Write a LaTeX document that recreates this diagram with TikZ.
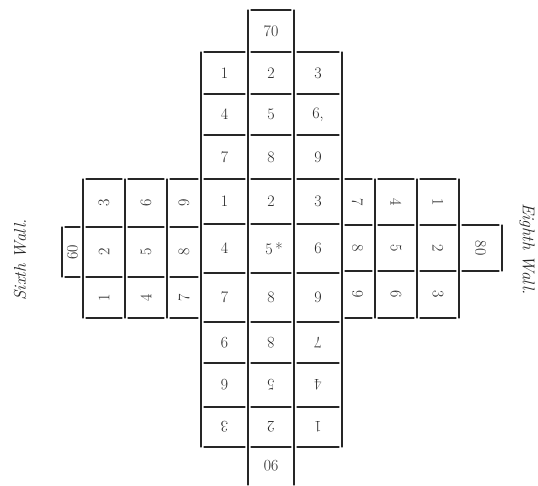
\documentclass[tikz,border=0pt]{standalone}
\begin{document}
\begin{tikzpicture}[x=1pt,y=-1pt,
  gridline/.style={line width=1.1pt, black!85, line cap=round},
  num/.style={font=\fontsize{16}{18}\selectfont, inner sep=0pt, text=black!85},
  wall/.style={font=\fontsize{17}{20}\selectfont\itshape, inner sep=0pt, text=black!85}]
\useasboundingbox[fill=white] (0,0) rectangle (538,485);

% ---------- centre verticals ----------
\draw[gridline] (201,52) -- (201,447);
\draw[gridline] (248,10) -- (248,485);
\draw[gridline] (294,10) -- (294,485);
\draw[gridline] (342,52) -- (342,447);
% ---------- centre horizontals ----------
\draw[gridline] (251,10) -- (291,10);
\foreach \y in {52,94,135,179,224,273,322,363,407,447} {
  \foreach \a/\b in {201/248,248/294,294/342}
    \draw[gridline] (\a+3,\y) -- (\b-3,\y);
}
% ---------- left block (Sixth Wall) ----------
\foreach \x in {83,125,167} \draw[gridline] (\x,179) -- (\x,318);
\draw[gridline] (62,227) -- (62,277);
\foreach \y in {179,318}
  \foreach \a/\b in {83/125,125/167,167/201}
    \draw[gridline] (\a+3,\y) -- (\b-3,\y);
\foreach \y in {227,277}
  \foreach \a/\b in {62/83,83/125,125/167,167/201}
    \draw[gridline] (\a+3,\y) -- (\b-3,\y);
% ---------- right block (Eighth Wall) ----------
\foreach \x in {375,417,459} \draw[gridline] (\x,179) -- (\x,318);
\draw[gridline] (502,225) -- (502,271);
\foreach \y in {179,318}
  \foreach \a/\b in {342/375,375/417,417/459}
    \draw[gridline] (\a+3,\y) -- (\b-3,\y);
\foreach \y in {225,271}
  \foreach \a/\b in {342/375,375/417,417/459,459/502}
    \draw[gridline] (\a+3,\y) -- (\b-3,\y);

% ---------- numbers: top block ----------
\node[num] (t70) at (271,31) {70};
\node[num] (t1) at (224.5,73) {1};
\node[num] (t2) at (271,73) {2};
\node[num] (t3) at (318,73) {3};
\node[num] (t4) at (224.5,114.5) {4};
\node[num] (t5) at (271,114.5) {5};
\node[num] (t6) at (318,114.5) {6,};
\node[num] (t7) at (224.5,157) {7};
\node[num] (t8) at (271,157) {8};
\node[num] (t9) at (318,157) {9};
% ---------- numbers: middle block ----------
\node[num] (m1) at (224.5,201.5) {1};
\node[num] (m2) at (271,201.5) {2};
\node[num] (m3) at (318,201.5) {3};
\node[num] (m4) at (224.5,248.5) {4};
\node[num] (m5) at (274,248.5) {5\,*};
\node[num] (m6) at (318,248.5) {6};
\node[num] (m7) at (224.5,297.5) {7};
\node[num] (m8) at (271,297.5) {8};
\node[num] (m9) at (318,297.5) {9};
% ---------- numbers: bottom block (turned) ----------
\node[num,rotate=180] (b9) at (224.5,343) {9};
\node[num,rotate=180] (b8) at (271,343) {8};
\node[num,rotate=180] (b7) at (318,343) {7};
\node[num,rotate=180] (b6) at (224.5,385) {6};
\node[num,rotate=180] (b5) at (271,385) {5};
\node[num,rotate=180] (b4) at (318,385) {4};
\node[num,rotate=180] (b3) at (224.5,427) {3};
\node[num,rotate=180] (b2) at (271,427) {2};
\node[num,rotate=180] (b1) at (318,427) {1};
\node[num,rotate=180] (b90) at (271,466) {90};
% ---------- numbers: left block ----------
\node[num,rotate=90] (l3) at (104,203) {3};
\node[num,rotate=90] (l6) at (146,203) {6};
\node[num,rotate=90] (l9) at (184,203) {9};
\node[num,rotate=90] (l2) at (104,252) {2};
\node[num,rotate=90] (l5) at (146,252) {5};
\node[num,rotate=90] (l8) at (184,252) {8};
\node[num,rotate=90] (l1) at (104,297.5) {1};
\node[num,rotate=90] (l4) at (146,297.5) {4};
\node[num,rotate=90] (l7) at (184,297.5) {7};
\node[num,rotate=90] (l60) at (72.5,252) {60};
% ---------- numbers: right block ----------
\node[num,rotate=-90] (r7) at (357.5,202) {7};
\node[num,rotate=-90] (r4) at (396,202) {4};
\node[num,rotate=-90] (r1) at (438,202) {1};
\node[num,rotate=-90] (r8) at (357.5,248) {8};
\node[num,rotate=-90] (r5) at (396,248) {5};
\node[num,rotate=-90] (r2) at (438,248) {2};
\node[num,rotate=-90] (r9) at (357.5,294.5) {9};
\node[num,rotate=-90] (r6) at (396,294.5) {6};
\node[num,rotate=-90] (r3) at (438,294.5) {3};
\node[num,rotate=-90] (r80) at (480.5,248) {80};

% ---------- wall labels ----------
\node[wall,rotate=90] (sixth) at (20,260) {Sixth Wall.};
\node[wall,rotate=-90] (eighth) at (527,249) {Eighth Wall.};
\end{tikzpicture}
\end{document}
